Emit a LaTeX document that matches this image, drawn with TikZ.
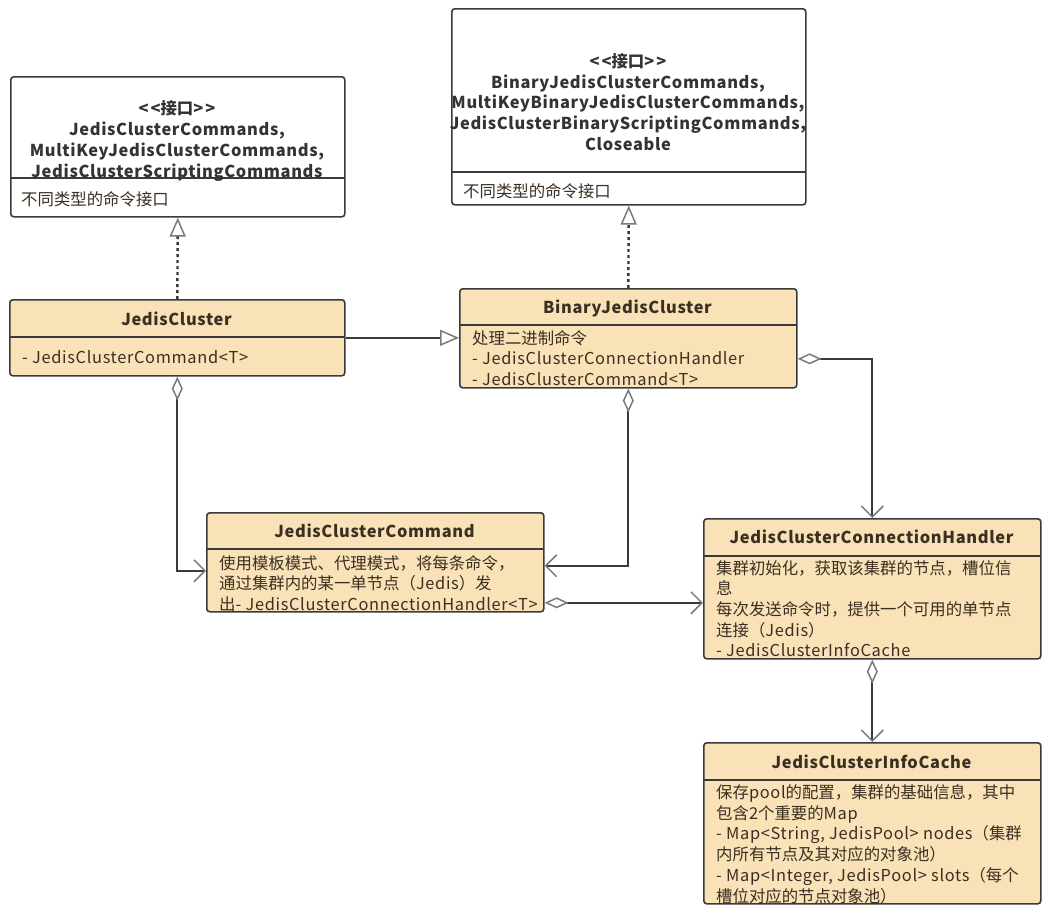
\documentclass[tikz,border=0pt]{standalone}
\usepackage{fontspec}
\setmainfont[LetterSpace=4]{Noto Sans CJK SC}
\newfontfamily\zhfam{Noto Sans CJK SC}
\newcommand\ZH[1]{{\zhfam #1}}
\usetikzlibrary{arrows.meta,calc}
\definecolor{fillc}{HTML}{F9E2B7}
\definecolor{linec}{HTML}{3A3A3A}
\definecolor{tipc}{HTML}{7A7A7A}
\definecolor{txtc}{HTML}{3B2F22}
\definecolor{ititle}{HTML}{333333}
\begin{document}
\begin{tikzpicture}[x=1pt,y=-1pt,
  box/.style={draw=linec, line width=1.6pt, rounded corners=3pt, inner sep=0pt, anchor=north west},
  cls/.style={box, fill=fillc},
  ifc/.style={box, fill=white},
  divider/.style={draw=linec, line width=1.6pt},
  title/.style={font=\fontsize{16.4}{20.7}\selectfont\bfseries, text=txtc, align=center, inner sep=0pt},
  ititlest/.style={title, text=ititle},
  body/.style={font=\fontsize{16.4}{20.7}\selectfont, text=txtc, align=left, inner sep=0pt, anchor=base west},
  conn/.style={draw=linec, line width=1.8pt},
  real/.style={draw=linec, line width=2.4pt, dash pattern=on 3pt off 3pt,
    -{Triangle[open, length=19pt, width=16pt, line width=1.5pt, color=tipc]}},
  gen/.style={conn, -{Triangle[open, length=19pt, width=16pt, line width=1.5pt, color=tipc]}},
  agg/.style={conn, {Diamond[open, length=24pt, width=11pt, line width=1.5pt, color=tipc]}-{Straight Barb[length=11pt, width=22pt, line width=1.5pt, color=tipc]}}
]
\useasboundingbox (0,0) rectangle (1048,910);

% Interface 1
\node[ifc, minimum width=334pt, minimum height=140pt] (i1) at (10,76) {};
\draw[divider] (10,178) -- (344,178);
\node[ititlest] (i1t) at (177,141) {<\kern2pt<\ZH{接口}>\kern2pt>\\JedisClusterCommands,\\MultiKeyJedisClusterCommands,\\JedisClusterScriptingCommands};
\node[body] (i1b) at (21,205) {\ZH{不同类型的命令接口}};

% Interface 2
\node[ifc, minimum width=354pt, minimum height=196pt] (i2) at (451,8) {};
\draw[divider] (451,172) -- (805,172);
\node[ititlest] (i2t) at (628,102) {<\kern2pt<\ZH{接口}>\kern2pt>\\BinaryJedisClusterCommands,\\MultiKeyBinaryJedisClusterCommands,\\JedisClusterBinaryScriptingCommands,\\Closeable};
\node[body] (i2b) at (463,197) {\ZH{不同类型的命令接口}};

% JedisCluster
\node[cls, minimum width=335pt, minimum height=76pt] (jc) at (9,299) {};
\draw[divider] (9,337) -- (344,337);
\node[title] (jct) at (176.5,319) {JedisCluster};
\node[body] (jcb) at (22,363) {- JedisClusterCommand<T>};

% BinaryJedisCluster
\node[cls, minimum width=337pt, minimum height=99pt] (bjc) at (459,288) {};
\draw[divider] (459,325) -- (796,325);
\node[title] (bjct) at (627.5,308) {BinaryJedisCluster};
\node[body] (bjcb) at (472,385.4) {\ZH{处理二进制命令}\\- JedisClusterConnectionHandler\\- JedisClusterCommand<T>};

% JedisClusterCommand
\node[cls, minimum width=337pt, minimum height=99pt] (jcc) at (206,512) {};
\draw[divider] (206,549) -- (543,549);
\node[title] (jcct) at (374.5,531) {JedisClusterCommand};
\node[body] (jccb) at (219,610.4) {\ZH{使用模板模式、代理模式，将每条命令，}\\\ZH{通过集群内的某一单节点（}Jedis\ZH{）发}\\\ZH{出}- JedisClusterConnectionHandler<T>};

% JedisClusterConnectionHandler
\node[cls, minimum width=337pt, minimum height=140pt] (jcch) at (703,518) {};
\draw[divider] (703,556) -- (1040,556);
\node[title] (jccht) at (871.5,537) {JedisClusterConnectionHandler};
\node[body] (jcchb) at (716,656.8) {\ZH{集群初始化，获取该集群的节点，槽位信}\\\ZH{息}\\\ZH{每次发送命令时，提供一个可用的单节点}\\\ZH{连接（}Jedis\ZH{）}\\- JedisClusterInfoCache};

% JedisClusterInfoCache
\node[cls, minimum width=337pt, minimum height=161pt] (jcic) at (703,742) {};
\draw[divider] (703,780) -- (1040,780);
\node[title] (jcict) at (871.5,762) {JedisClusterInfoCache};
\node[body] (jcicb) at (716,902) {\ZH{保存}pool\ZH{的配置，集群的基础信息，其中}\\\ZH{包含}2\ZH{个重要的}Map\\- Map<String, JedisPool> nodes\ZH{（集群}\\\ZH{内所有节点及其对应的对象池）}\\- Map<Integer, JedisPool> slots\ZH{（每个}\\\ZH{槽位对应的节点对象池）}};

% connectors
\draw[real] (jc.north) -- (i1.south);
\draw[real] (bjc.north) -- (i2.south);
\draw[gen] (jc.east) -- (jc.east -| bjc.west);
\draw[agg] (jc.south) |- ([yshift=-8.5pt]jcc.west);
\draw[agg] (bjc.south) |- ([yshift=-3.5pt]jcc.east);
\draw[agg] ([yshift=-20.5pt]bjc.east) -| (jcch.north);
\draw[agg] ([yshift=-40.5pt]jcc.east) -- ([yshift=-40.5pt]jcc.east -| jcch.west);
\draw[agg] (jcch.south) -- (jcic.north);
\end{tikzpicture}
\end{document}
